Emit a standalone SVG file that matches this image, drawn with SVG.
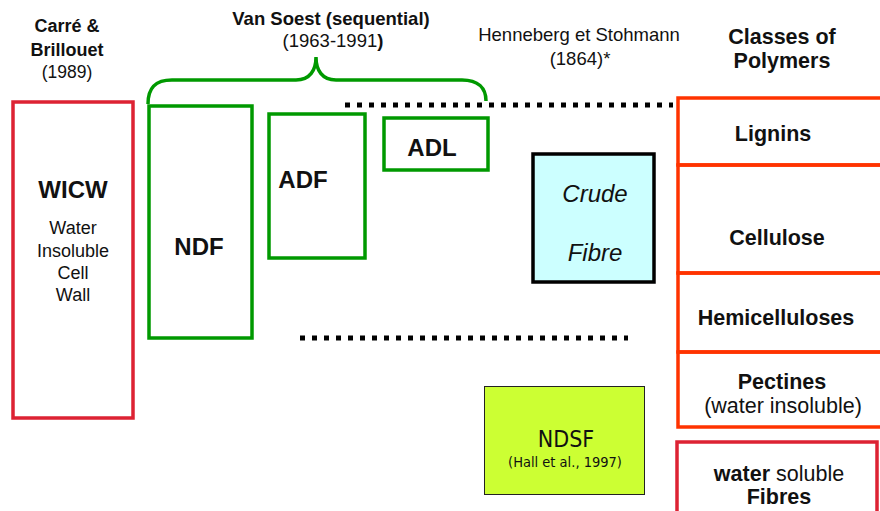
<svg xmlns="http://www.w3.org/2000/svg" width="880" height="511" viewBox="0 0 880 511">
<style>
text{font-family:"Liberation Sans",Arial,sans-serif;fill:#111;text-anchor:middle}
.b{font-weight:bold}
.red{fill:none;stroke:#dd2233;stroke-width:3.5}
.org{fill:none;stroke:#ff3300;stroke-width:3.5}
.grn{fill:none;stroke:#009900;stroke-width:3.5}
.dot{stroke:#000;stroke-width:5;stroke-dasharray:5 7;fill:none}
.cm{font-family:"DejaVu Sans Condensed","DejaVu Sans",sans-serif}
</style>
<rect width="880" height="511" fill="#fff"/>
<g id="headers">
<text x="67" y="32" class="b" font-size="18">Carré &amp;</text>
<text x="67" y="56" class="b" font-size="18">Brillouet</text>
<text x="67" y="78" font-size="17.5">(1989)</text>
<text x="331" y="25" class="b" font-size="18.5">Van Soest (sequential)</text>
<text x="333" y="47" font-size="18.5">(1963-1991<tspan font-weight="bold">)</tspan></text>
<text x="579" y="41" font-size="18.5">Henneberg et Stohmann</text>
<text x="580" y="65" font-size="18.5">(1864)*</text>
<text x="782" y="44" class="b" font-size="21.5">Classes of</text>
<text x="782" y="68" class="b" font-size="21.5">Polymers</text>
</g>
<g id="connectors">
<path class="grn" stroke-width="5" d="M148,104 C148,88 155,80 172,80 L296,80 C310,80 316,70 316,57 C316,70 322,80 336,80 L462,80 C478,80 486,88 486,101"/>
<line class="dot" x1="345" y1="105" x2="673" y2="105"/>
<line class="dot" x1="300" y1="338" x2="628" y2="338"/>
</g>
<g id="wicw">
<rect class="red" x="13" y="102" width="120" height="316"/>
<text x="73" y="198" class="b" font-size="24">WICW</text>
<text x="73" y="234" font-size="18">Water</text>
<text x="73" y="257" font-size="18">Insoluble</text>
<text x="73" y="279" font-size="18">Cell</text>
<text x="73" y="301" font-size="18">Wall</text>
</g>
<g id="ndf">
<rect class="grn" x="149" y="106" width="103" height="232"/>
<text x="199" y="255" class="b" font-size="24">NDF</text>
</g>
<g id="adf">
<rect class="grn" x="269" y="114" width="96" height="144"/>
<text x="303" y="188" class="b" font-size="24">ADF</text>
</g>
<g id="adl">
<rect class="grn" x="384" y="118" width="104" height="52"/>
<text x="432" y="156" class="b" font-size="24">ADL</text>
</g>
<g id="crude">
<rect x="533" y="154" width="121" height="128" fill="#ccffff" stroke="#000" stroke-width="3.5"/>
<text x="595" y="202" font-size="24" font-style="italic">Crude</text>
<text x="595" y="261" font-size="24" font-style="italic">Fibre</text>
</g>
<g id="ndsf">
<rect x="484.5" y="386.5" width="160" height="108" fill="#ccff33" stroke="#222" stroke-width="1"/>
<text x="566" y="447" font-size="23" class="cm">NDSF</text>
<text x="565" y="467" font-size="14.5" class="cm">(Hall et al., 1997)</text>
</g>
<g id="lignins">
<rect class="org" x="678" y="98" width="210" height="67"/>
<text x="773" y="141" class="b" font-size="21.5">Lignins</text>
</g>
<g id="cellulose">
<rect class="org" x="678" y="165" width="210" height="108"/>
<text x="777" y="245" class="b" font-size="21.5">Cellulose</text>
</g>
<g id="hemicelluloses">
<rect class="org" x="678" y="273" width="210" height="79"/>
<text x="776" y="325" class="b" font-size="21.5">Hemicelluloses</text>
</g>
<g id="pectines">
<rect class="org" x="678" y="352" width="210" height="75"/>
<text x="782" y="389" class="b" font-size="21.5">Pectines</text>
<text x="783" y="413" font-size="21.5">(water insoluble)</text>
</g>
<g id="watersoluble">
<rect class="red" x="677" y="442" width="200" height="80"/>
<text x="779" y="481" font-size="21.5"><tspan font-weight="bold">water</tspan> soluble</text>
<text x="779" y="504" class="b" font-size="21.5">Fibres</text>
</g>
</svg>
